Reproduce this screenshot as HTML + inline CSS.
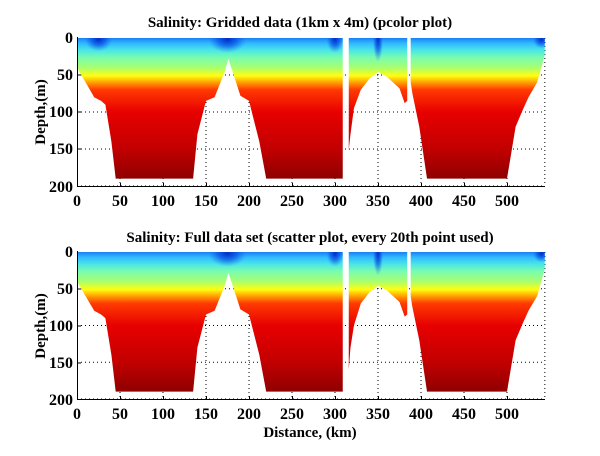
<!DOCTYPE html>
<html><head><meta charset="utf-8"><style>
html,body{margin:0;padding:0;background:#fff;}
svg text{font-family:"Liberation Serif",serif;font-weight:bold;fill:#000;}
</style></head><body>
<svg width="600" height="451" viewBox="0 0 600 451" xmlns="http://www.w3.org/2000/svg">
<defs>
<linearGradient id="g" gradientUnits="userSpaceOnUse" x1="0" y1="0" x2="0" y2="200">
<stop offset="0" stop-color="#1a80f4"/>
<stop offset="0.035" stop-color="#30b8ff"/>
<stop offset="0.08" stop-color="#48e4e8"/>
<stop offset="0.13" stop-color="#78fcb0"/>
<stop offset="0.2" stop-color="#a8ff70"/>
<stop offset="0.255" stop-color="#ffff10"/>
<stop offset="0.3" stop-color="#ffa000"/>
<stop offset="0.35" stop-color="#ff3a00"/>
<stop offset="0.5" stop-color="#e80000"/>
<stop offset="0.75" stop-color="#c20000"/>
<stop offset="0.96" stop-color="#8c0000"/>
</linearGradient>
<radialGradient id="b" cx="0.5" cy="0.5" r="0.5">
<stop offset="0" stop-color="#0020c0" stop-opacity="0.9"/>
<stop offset="0.5" stop-color="#0040e0" stop-opacity="0.6"/>
<stop offset="1" stop-color="#1060f0" stop-opacity="0"/>
</radialGradient>
<clipPath id="cp"><rect x="0" y="0" width="544" height="200"/></clipPath>
<g id="grid" stroke="#000" stroke-width="1" stroke-dasharray="1,3" fill="none">
<path vector-effect="non-scaling-stroke" d="M50 0V200M100 0V200M150 0V200M200 0V200M250 0V200M300 0V200M350 0V200M400 0V200M450 0V200M500 0V200M0 50H544M0 100H544M0 150H544M0 200H544M544 0V200"/>
</g>
<g id="dataT" clip-path="url(#cp)">
<path fill="url(#g)" d="M0 0H309V190H220L212 140L200 85L190 78L178 35L176 28L172 45L160 80L150 85L140 130L135 190H45L40 140L33 90L28 85L20 80L10 60L0 40Z"/>
<path fill="url(#g)" d="M316 0H384V85L381 88L375 68L360 52L350 46L340 55L330 70L322 95L318 130L316 151Z"/>
<path fill="url(#g)" d="M388 0H544V22L540 40L535 60L525 80L518 98L510 120L500 190H407L398 120L390 75L388 60Z"/>
<ellipse cx="175" cy="2" rx="22" ry="18" fill="url(#b)"/>
<ellipse cx="25" cy="2" rx="16" ry="16" fill="url(#b)"/>
<ellipse cx="350" cy="2" rx="6" ry="30" fill="url(#b)"/>
<ellipse cx="540" cy="2" rx="10" ry="12" fill="url(#b)"/>
<ellipse cx="300" cy="2" rx="10" ry="18" fill="url(#b)"/>
</g>
<g id="dataB" clip-path="url(#cp)">
<path fill="url(#g)" d="M0 0H309V190H220L212 140L200 85L190 78L178 35L176 28L172 45L160 80L150 85L140 130L135 190H45L40 140L33 90L28 85L20 80L10 60L0 40Z"/>
<path fill="url(#g)" d="M316 0H384V85L381 88L375 68L360 52L350 46L340 55L330 70L322 100L318 130L316 160Z"/>
<path fill="url(#g)" d="M388 0H544V22L540 40L535 60L525 80L518 98L510 120L500 190H407L398 120L390 75L388 60Z"/>
<ellipse cx="175" cy="2" rx="22" ry="18" fill="url(#b)"/>
<ellipse cx="350" cy="2" rx="6" ry="30" fill="url(#b)"/>
<ellipse cx="540" cy="2" rx="10" ry="12" fill="url(#b)"/>
<ellipse cx="300" cy="2" rx="10" ry="18" fill="url(#b)"/>
</g>
</defs>

<g transform="translate(77,38) scale(0.86,0.74)">
<use href="#grid"/>
<use href="#dataT"/>
</g>
<g transform="translate(77,252) scale(0.86,0.735)">
<use href="#grid"/>
<use href="#dataB"/>
</g>

<g stroke="#000" stroke-width="1" fill="none">
<path d="M77.5 37V186.5H545"/>
<path d="M77.5 251V399.5H545"/>
<path d="M120.5 186V183M163.5 186V183M206.5 186V183M249.5 186V183M292.5 186V183M335.5 186V183M378.5 186V183M421.5 186V183M464.5 186V183M507.5 186V183M78 75H81M78 112H81M78 149H81"/>
<path d="M120.5 399V396M163.5 399V396M206.5 399V396M249.5 399V396M292.5 399V396M335.5 399V396M378.5 399V396M421.5 399V396M464.5 399V396M507.5 399V396M78 289H81M78 326H81M78 363H81"/>
</g>

<text x="300" y="27" font-size="15" text-anchor="middle">Salinity: Gridded data (1km x 4m) (pcolor plot)</text>
<text x="310" y="242" font-size="15" text-anchor="middle">Salinity: Full data set (scatter plot, every 20th point used)</text>

<g font-size="16" text-anchor="end">
<text x="73" y="43">0</text><text x="73" y="80">50</text><text x="73" y="117">100</text><text x="73" y="154">150</text><text x="73" y="192">200</text>
<text x="73" y="257">0</text><text x="73" y="294">50</text><text x="73" y="331">100</text><text x="73" y="368">150</text><text x="73" y="405">200</text>
</g>
<g font-size="16" text-anchor="middle">
<text x="77" y="206">0</text><text x="120" y="206">50</text><text x="163" y="206">100</text><text x="206" y="206">150</text><text x="249" y="206">200</text><text x="292" y="206">250</text><text x="335" y="206">300</text><text x="378" y="206">350</text><text x="421" y="206">400</text><text x="464" y="206">450</text><text x="507" y="206">500</text>
<text x="77" y="419">0</text><text x="120" y="419">50</text><text x="163" y="419">100</text><text x="206" y="419">150</text><text x="249" y="419">200</text><text x="292" y="419">250</text><text x="335" y="419">300</text><text x="378" y="419">350</text><text x="421" y="419">400</text><text x="464" y="419">450</text><text x="507" y="419">500</text>
</g>
<text font-size="15" text-anchor="middle" transform="translate(45,112) rotate(-90)">Depth,(m)</text>
<text font-size="15" text-anchor="middle" transform="translate(45,326) rotate(-90)">Depth,(m)</text>
<text x="310" y="437" font-size="15" text-anchor="middle">Distance, (km)</text>
</svg>
</body></html>
